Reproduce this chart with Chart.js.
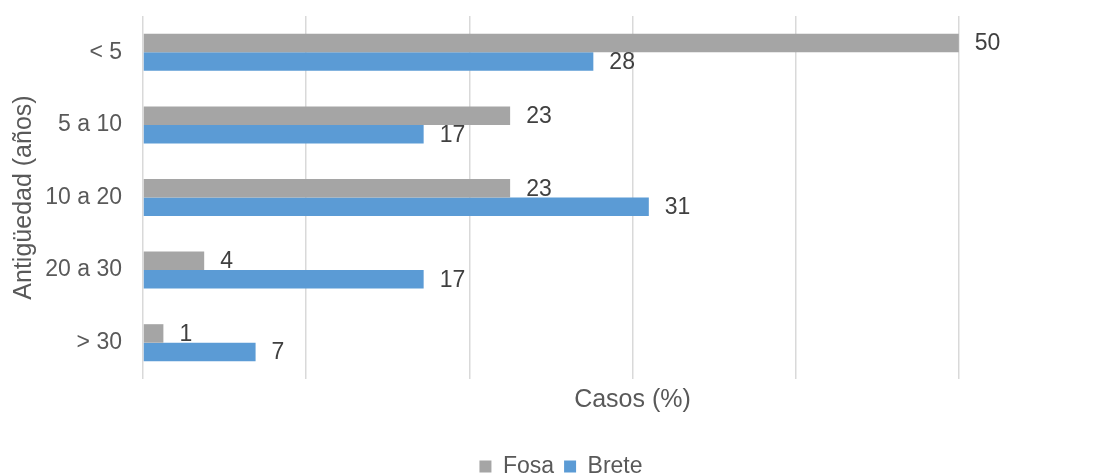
<!DOCTYPE html>
<html>
<head>
<meta charset="utf-8">
<script src="https://cdn.jsdelivr.net/npm/chart.js@4.4.1/dist/chart.umd.min.js"></script>
<style>
  html, body { margin: 0; padding: 0; background: #fff; overflow: hidden; }
  #wrap { width: 1134px; height: 488px; }
</style>
</head>
<body>
<div id="wrap"><canvas id="chart" width="1134" height="488"></canvas></div>
<script>
const categorias = ['< 5', '5 a 10', '10 a 20', '20 a 30', '> 30'];
const fosa = [50, 22.5, 22.5, 3.75, 1.25];
const brete = [27.6, 17.2, 31.0, 17.2, 6.9];
const xTicks = [0, 10, 20, 30, 40, 50, 60];

const FONT = "'Liberation Sans', Arial, sans-serif";

// etichette dei valori a destra delle barre
const valueLabels = {
    id: 'valueLabels',
    afterDatasetsDraw(chart) {
        const ctx = chart.ctx;
        ctx.save();
        ctx.font = '23px ' + FONT;
        ctx.fillStyle = '#404040';
        ctx.textAlign = 'left';
        ctx.textBaseline = 'middle';
        chart.data.datasets.forEach((ds, i) => {
            const meta = chart.getDatasetMeta(i);
            meta.data.forEach((bar, j) => {
                ctx.fillText(String(Math.round(ds.data[j])), bar.x + 16, bar.y + 1);
            });
        });
        ctx.restore();
    }
};

new Chart(document.getElementById('chart'), {
    type: 'bar',
    data: {
        labels: categorias,
        datasets: [
            { label: 'Fosa', data: fosa, backgroundColor: '#A5A5A5' },
            { label: 'Brete', data: brete, backgroundColor: '#5B9BD5' }
        ]
    },
    options: {
        indexAxis: 'y',
        responsive: false,
        animation: false,
        layout: { padding: { top: 16, left: 0, right: 12, bottom: 0 } },
        datasets: { bar: { categoryPercentage: 0.51, barPercentage: 1.0 } },
        scales: {
            x: {
                min: 0,
                max: 60,
                afterBuildTicks: (scale) => { scale.ticks = xTicks.map(v => ({ value: v })); },
                ticks: { display: false },
                grid: { color: '#D9D9D9', lineWidth: 1.5, drawTicks: false },
                border: { display: false },
                title: {
                    display: true,
                    text: 'Casos (%)',
                    color: '#595959',
                    font: { family: FONT, size: 25 },
                    padding: { top: 6, bottom: 30 }
                }
            },
            y: {
                // larghezza fissa, niente padding extra sopra/sotto
                afterFit: (scale) => { scale.width = 143; scale.paddingTop = 0; scale.paddingBottom = 0; },
                ticks: { color: '#595959', font: { family: FONT, size: 23 }, padding: 21 },
                grid: { display: false, drawTicks: false },
                border: { display: false },
                title: {
                    display: true,
                    text: 'Antigüedad (años)',
                    color: '#595959',
                    font: { family: FONT, size: 25 },
                    padding: { top: 9, bottom: 0 }
                }
            }
        },
        plugins: {
            legend: {
                position: 'bottom',
                labels: {
                    color: '#595959',
                    font: { family: FONT, size: 23 },
                    boxWidth: 12,
                    boxHeight: 12,
                    padding: 10
                }
            },
            tooltip: { enabled: false }
        }
    },
    plugins: [valueLabels]
});
</script>
</body>
</html>
